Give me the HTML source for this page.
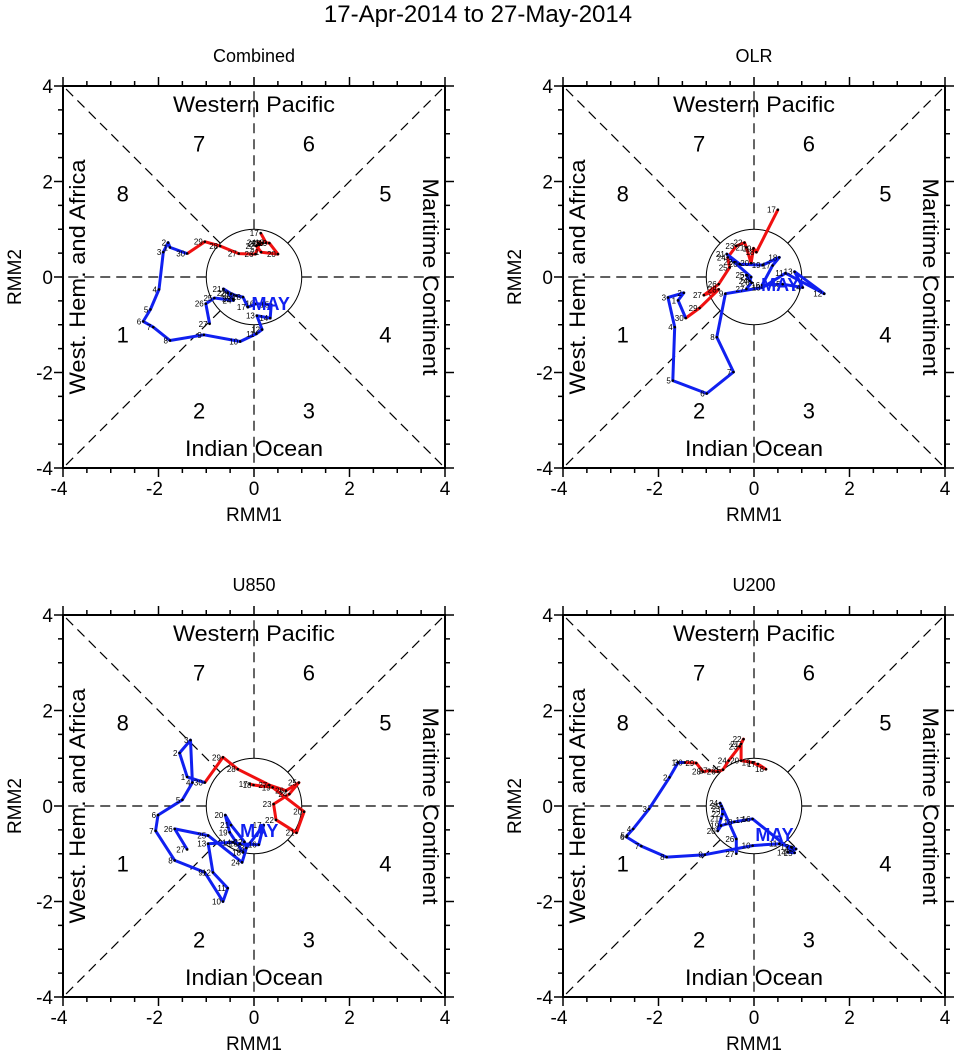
<!DOCTYPE html>
<html><head><meta charset="utf-8">
<style>
html,body{margin:0;padding:0;background:#fff;}
svg{display:block;font-family:"Liberation Sans",Arial,sans-serif;}
</style></head>
<body>
<svg id="chart" width="956" height="1058" viewBox="0 0 956 1058" xmlns="http://www.w3.org/2000/svg">
<text x="478" y="22" font-size="24" text-anchor="middle">17-Apr-2014 to 27-May-2014</text>
</svg>
<script>
const aprDays = [17,18,19,20,21,22,23,24,25,26,27,28,29,30];
const mayDays = [1,2,3,4,5,6,7,8,9,10,11,12,13,14,15,16,17,18,19,20,21,22,23,24,25,26,27];
const axisTicks = [-4,-2,0,2,4];

const combAprX = [0.14,0.25,0.32,0.50,0.15,0.05,0.18,0.08,0.11,0.03,-0.32,-0.71,-1.03,-1.40];
const combAprY = [0.92,0.72,0.71,0.48,0.52,0.65,0.71,0.72,0.69,0.48,0.49,0.65,0.74,0.49];
const combMayX = [-1.76,-1.80,-1.90,-1.99,-2.17,-2.32,-2.11,-1.76,-1.05,-0.29,0.05,0.17,0.06,0.34,0.36,0.05,-0.13,-0.23,-0.37,-0.48,-0.64,-0.55,-0.44,-0.43,-0.83,-1.01,-0.93];
const combMayY = [0.62,0.72,0.52,-0.26,-0.68,-0.93,-1.05,-1.33,-1.21,-1.35,-1.19,-1.10,-0.81,-0.86,-0.58,-0.56,-0.63,-0.42,-0.39,-0.35,-0.25,-0.33,-0.46,-0.49,-0.44,-0.56,-0.98];

const olrAprX = [0.50,0.05,-0.01,-0.06,-0.16,-0.20,-0.37,-0.55,-0.51,-0.74,-1.05,-0.74,-1.14,-1.43];
const olrAprY = [1.41,0.52,0.60,0.29,0.62,0.72,0.65,0.41,0.20,-0.15,-0.38,-0.26,-0.65,-0.86];
const olrMayX = [-1.59,-1.47,-1.80,-1.66,-1.70,-0.99,-0.43,-0.78,-0.60,0.18,0.66,1.47,0.85,1.02,0.60,0.17,0.39,0.53,0.18,-0.30,-0.57,-0.41,-0.06,-0.09,-0.16,-0.05,-0.16];
const olrMayY = [-0.49,-0.33,-0.43,-1.05,-2.17,-2.44,-1.99,-1.26,-0.35,-0.22,0.08,-0.35,0.11,-0.22,-0.15,-0.17,0.24,0.41,0.25,0.27,0.48,0.31,0.00,-0.08,0.04,-0.12,-0.25];

const u850AprX = [-0.09,-0.01,0.39,1.05,0.89,0.46,0.41,0.74,0.94,0.67,0.32,-0.34,-0.65,-1.03];
const u850AprY = [0.46,0.44,0.39,-0.12,-0.56,-0.29,0.04,0.25,0.49,0.32,0.44,0.77,1.02,0.49];
const u850MayX = [-1.40,-1.56,-1.33,-1.29,-1.50,-2.01,-2.06,-1.66,-1.03,-0.65,-0.55,-0.86,-0.96,-0.44,-0.30,0.10,0.20,-0.23,-0.51,-0.60,-0.48,-0.20,-0.16,-0.25,-0.96,-1.66,-1.40];
const u850MayY = [0.61,1.11,1.38,0.49,0.13,-0.19,-0.52,-1.14,-1.39,-2.00,-1.72,-1.39,-0.79,-0.76,-0.79,-0.81,-0.40,-0.97,-0.55,-0.19,-0.40,-0.75,-0.88,-1.18,-0.62,-0.48,-0.91];

const u200AprX = [0.08,0.25,-0.03,-0.27,-0.27,-0.22,-0.30,-0.53,-0.65,-0.76,-0.93,-1.07,-1.21,-1.45];
const u200AprY = [0.88,0.77,0.91,0.95,1.30,1.40,1.25,0.95,0.76,0.72,0.74,0.72,0.90,0.91];
const u200MayX = [-1.59,-1.77,-2.20,-2.53,-2.66,-2.67,-2.36,-1.83,-1.03,-0.03,0.53,0.78,0.88,0.71,0.85,-0.03,-0.16,-0.41,-0.69,-0.76,-0.69,-0.66,-0.66,-0.71,-0.68,-0.37,-0.37];
const u200MayY = [0.91,0.60,-0.06,-0.48,-0.62,-0.65,-0.84,-1.07,-1.02,-0.83,-0.79,-0.86,-0.90,-0.97,-0.98,-0.27,-0.29,-0.33,-0.41,-0.52,-0.26,-0.17,-0.06,0.06,0.00,-0.69,-1.00];

const NS = "http://www.w3.org/2000/svg";
const svg = document.getElementById('chart');
const S = 382/8;

function mk(tag, attrs, parent){
  const e = document.createElementNS(NS, tag);
  for (const k in attrs) e.setAttribute(k, attrs[k]);
  (parent||svg).appendChild(e);
  return e;
}

function panel(key, title, left, top, aprX, aprY, mayX, mayY, mayPos){
  const g = mk('g', {});
  
  
  const sx = v => left + (v + 4) * S;
  const sy = v => top + (4 - v) * S;
  const cx = sx(0), cy = sy(0), R = S;

  const t = mk('text', {x: cx, y: top - 24, 'font-size': 18, 'text-anchor': 'middle'}, g);
  t.textContent = title;
  
  

  const dirs = [[1,0],[-1,0],[0,1],[0,-1],[1,1],[1,-1],[-1,1],[-1,-1]];
  dirs.forEach(d => {
    const n = Math.hypot(d[0], d[1]);
    const ux = d[0]/n, uy = d[1]/n;
    const l = mk('line', {x1: sx(ux), y1: sy(uy), x2: sx(d[0]*4), y2: sy(d[1]*4), stroke: '#000', 'stroke-width': 1.2, 'stroke-dasharray': '10,6'}, g);
    
    
  });
  const c = mk('circle', {cx: cx, cy: cy, r: R, fill: 'none', stroke: '#000', 'stroke-width': 1}, g);
  
  

  const fr = mk('rect', {x: left, y: top, width: 8*S, height: 8*S, fill: 'none', stroke: '#000', 'stroke-width': 2}, g);
  
  

  for (let v = -4; v <= 4.001; v += 0.5) {
    const major = Math.abs(v - Math.round(v/2)*2) < 1e-6;
    const L = major ? 9 : 5;
    mk('line', {x1: sx(v), y1: top + 8*S, x2: sx(v), y2: top + 8*S + L, stroke: '#000', 'stroke-width': 1.5}, g);
    mk('line', {x1: sx(v), y1: top, x2: sx(v), y2: top - L, stroke: '#000', 'stroke-width': 1.5}, g);
    mk('line', {x1: left, y1: sy(v), x2: left - L, y2: sy(v), stroke: '#000', 'stroke-width': 1.5}, g);
    mk('line', {x1: left + 8*S, y1: sy(v), x2: left + 8*S + L, y2: sy(v), stroke: '#000', 'stroke-width': 1.5}, g);
  }
  axisTicks.forEach(v => {
    const tx = mk('text', {x: sx(v) - (v < 0 ? 4 : 0), y: top + 8*S + 27, 'font-size': 19, 'text-anchor': 'middle'}, g);
    tx.textContent = v;
    
    
    const ty = mk('text', {x: left - 10, y: sy(v) + 7, 'font-size': 19, 'text-anchor': 'end'}, g);
    ty.textContent = v;
    
    
  });
  const xl = mk('text', {x: cx, y: top + 8*S + 53, 'font-size': 19, 'text-anchor': 'middle'}, g);
  xl.textContent = 'RMM1';
  
  
  const yl = mk('text', {x: 0, y: 0, 'font-size': 19, 'text-anchor': 'middle', transform: `translate(${left - 42},${cy}) rotate(-90)`}, g);
  yl.textContent = 'RMM2';
  
  

  const rl = (txt, x, y, rot, len, name) => {
    const e = mk('text', {x: 0, y: 0, 'font-size': 22, 'text-anchor': 'middle', textLength: len, lengthAdjust: 'spacingAndGlyphs', transform: `translate(${x},${y}) rotate(${rot})`}, g);
    e.textContent = txt;
    
    
  };
  rl('Western Pacific', cx, top + 26, 0, 162, 'region-western-pacific');
  rl('Indian Ocean', cx, top + 8*S - 12, 0, 138, 'region-indian-ocean');
  rl('West. Hem. and Africa', left + 22, cy, -90, 235, 'region-west-hem-africa');
  rl('Maritime Continent', left + 8*S - 22, cy, 90, 197, 'region-maritime-continent');
  const ph = [[1,-2.75,-1.2],[2,-1.15,-2.8],[3,1.15,-2.8],[4,2.75,-1.2],[5,2.75,1.75],[6,1.15,2.8],[7,-1.15,2.8],[8,-2.75,1.75]];
  ph.forEach(p => {
    const e = mk('text', {x: sx(p[1]), y: sy(p[2]) + 8, 'font-size': 22, 'text-anchor': 'middle'}, g);
    e.textContent = p[0];
    
    
  });

  let d = '';
  aprX.forEach((v,i) => { d += (i ? 'L' : 'M') + sx(v).toFixed(1) + ' ' + sy(aprY[i]).toFixed(1); });
  const pr = mk('path', {d: d, fill: 'none', stroke: '#f01010', 'stroke-width': 3, 'stroke-linejoin': 'round'}, g);
  
  
  const la = aprX.length - 1;
  d = 'M' + sx(aprX[la]).toFixed(1) + ' ' + sy(aprY[la]).toFixed(1);
  mayX.forEach((v,i) => { d += 'L' + sx(v).toFixed(1) + ' ' + sy(mayY[i]).toFixed(1); });
  const pb = mk('path', {d: d, fill: 'none', stroke: '#1020f0', 'stroke-width': 3, 'stroke-linejoin': 'round'}, g);
  
  

  const pts = (xs, ys, days, name) => {
    xs.forEach((v,i) => {
      const dt = mk('circle', {cx: sx(v), cy: sy(ys[i]), r: 1.3, fill: '#000'}, g);
      
      
      const lb = mk('text', {x: sx(v) - 2, y: sy(ys[i]) + 3, 'font-size': 8, 'text-anchor': 'end'}, g);
      lb.textContent = days[i];
      
      
    });
  };
  pts(aprX, aprY, aprDays, 'april');
  pts(mayX, mayY, mayDays, 'may');

  const m = mk('text', {x: sx(mayPos[0]), y: sy(mayPos[1]), 'font-size': 18, 'font-weight': 'bold', fill: '#1020f0', 'text-anchor': 'middle'}, g);
  m.textContent = 'MAY';
  
  
}

panel('combined', 'Combined', 63, 86, combAprX, combAprY, combMayX, combMayY, [0.35,-0.69]);
panel('olr', 'OLR', 563, 86, olrAprX, olrAprY, olrMayX, olrMayY, [0.55,-0.29]);
panel('u850', 'U850', 63, 615, u850AprX, u850AprY, u850MayX, u850MayY, [0.11,-0.65]);
panel('u200', 'U200', 563, 615, u200AprX, u200AprY, u200MayX, u200MayY, [0.43,-0.73]);
</script>
</body></html>
